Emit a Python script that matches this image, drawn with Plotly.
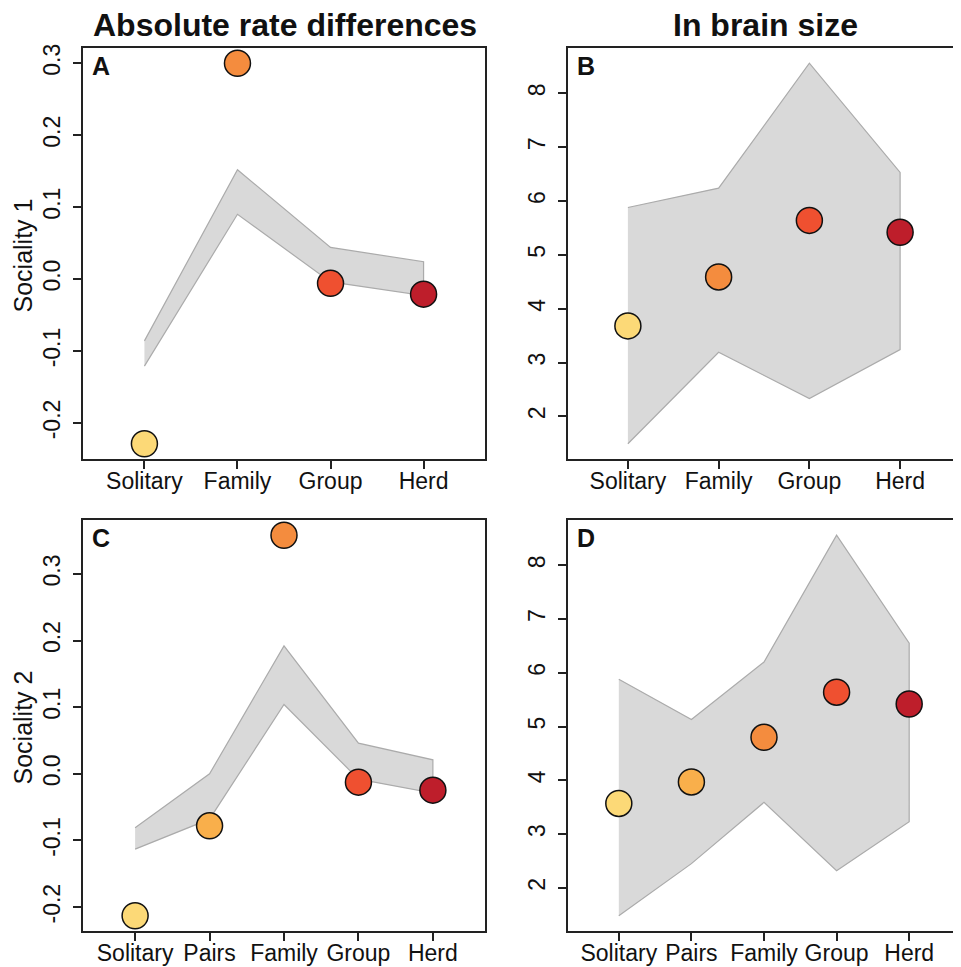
import plotly.graph_objects as go

# page offset: browser body has an 8px margin
OFF = 8
W, H = 961 - OFF, 967 - OFF

# ---------------- data ----------------
cats4 = ["Solitary", "Family", "Group", "Herd"]
cats5 = ["Solitary", "Pairs", "Family", "Group", "Herd"]

colors4 = ["#FCD977", "#F48C3E", "#EF5030", "#BE1E2B"]
colors5 = ["#FCD977", "#F9AF4B", "#F48C3E", "#EF5030", "#BE1E2B"]

# Panel A: Sociality 1, absolute rate differences
a_points = [-0.229, 0.300, -0.006, -0.021]
a_upper = [-0.086, 0.152, 0.044, 0.024]
a_lower = [-0.121, 0.090, -0.004, -0.023]

# Panel B: Sociality 1, brain size
b_points = [3.68, 4.59, 5.64, 5.42]
b_upper = [5.88, 6.24, 8.56, 6.53]
b_lower = [1.49, 3.19, 2.33, 3.24]

# Panel C: Sociality 2, absolute rate differences
c_points = [-0.213, -0.078, 0.358, -0.0125, -0.0245]
c_upper = [-0.081, 0.000, 0.192, 0.046, 0.021]
c_lower = [-0.113, -0.068, 0.104, -0.008, -0.029]

# Panel D: Sociality 2, brain size
d_points = [3.57, 3.97, 4.80, 5.64, 5.42]
d_upper = [5.88, 5.13, 6.20, 8.56, 6.55]
d_lower = [1.48, 2.45, 3.59, 2.32, 3.23]

rate_ticks = [-0.2, -0.1, 0.0, 0.1, 0.2, 0.3]
rate_ticktext = ["-0.2", "-0.1", "0.0", "0.1", "0.2", "0.3"]
brain_ticks = [2, 3, 4, 5, 6, 7, 8]
brain_ticktext = ["2", "3", "4", "5", "6", "7", "8"]

titles = ["Absolute rate differences", "In brain size"]
row_labels = ["Sociality 1", "Sociality 2"]
panel_letters = ["A", "B", "C", "D"]

# ---------------- layout geometry (pixels, page coordinates) ----------------
FONT = "Liberation Sans, Arial, sans-serif"
col_x = [(83, 485), (568, 960)]
row_y = [(48, 459), (520, 931)]


def fx(p):
    return (p - OFF) / W


def fy(p):
    return 1 - (p - OFF) / H


fig = go.Figure()

panels = [
    (cats4, colors4, a_points, a_upper, a_lower, rate_ticks, rate_ticktext, 0, 0),
    (cats4, colors4, b_points, b_upper, b_lower, brain_ticks, brain_ticktext, 0, 1),
    (cats5, colors5, c_points, c_upper, c_lower, rate_ticks, rate_ticktext, 1, 0),
    (cats5, colors5, d_points, d_upper, d_lower, brain_ticks, brain_ticktext, 1, 1),
]

for i, (cats, cols, pts, up, lo, tv, tt, r, c) in enumerate(panels):
    n = len(cats)
    xs = list(range(1, n + 1))
    xa = "x" if i == 0 else f"x{i+1}"
    ya = "y" if i == 0 else f"y{i+1}"
    # confidence band
    fig.add_trace(go.Scatter(
        x=xs + xs[::-1], y=up + lo[::-1], mode="lines", fill="toself",
        fillcolor="#D9D9D9", line=dict(color="#ABABAB", width=1.2),
        xaxis=xa, yaxis=ya, showlegend=False, hoverinfo="skip"))
    # observed points
    fig.add_trace(go.Scatter(
        x=xs, y=pts, mode="markers",
        marker=dict(size=26, color=cols, line=dict(color="#111111", width=1.5)),
        xaxis=xa, yaxis=ya, showlegend=False))

    allv = pts + up + lo
    lo_v, hi_v = min(allv), max(allv)
    pad = 0.04 * (hi_v - lo_v)
    xpad = 0.04 * n

    axkw = dict(showline=True, mirror=True, linecolor="#222222", linewidth=1.5,
                ticks="outside", ticklen=8, tickwidth=1.5, tickcolor="#222222",
                showgrid=False, zeroline=False, automargin=False,
                tickfont=dict(family=FONT, size=23, color="#111111"))
    fig.layout[("xaxis" if i == 0 else f"xaxis{i+1}")] = dict(
        domain=[fx(col_x[c][0]), fx(col_x[c][1])], anchor=ya,
        range=[0.5 - xpad, n + 0.5 + xpad], tickvals=xs, ticktext=cats,
        ticklabelstandoff=-7, **axkw)
    fig.layout[("yaxis" if i == 0 else f"yaxis{i+1}")] = dict(
        domain=[fy(row_y[r][1]), fy(row_y[r][0])], anchor=xa,
        range=[lo_v - pad, hi_v + pad], tickvals=tv, ticktext=tt,
        tickangle=-90, ticklabelstandoff=4, **axkw)

    # panel letter
    fig.add_annotation(text=f"<b>{panel_letters[i]}</b>", xref="paper", yref="paper",
                       x=fx(col_x[c][0] + 7), y=fy(row_y[r][0] + 2),
                       xanchor="left", yanchor="top", showarrow=False,
                       font=dict(family=FONT, size=25, color="#111111"))

# column titles
for c, t in enumerate(titles):
    fig.add_annotation(text=f"<b>{t}</b>", xref="paper", yref="paper",
                       x=fx((col_x[c][0] + col_x[c][1]) / 2 + 1), y=fy(6),
                       xanchor="center", yanchor="top", showarrow=False,
                       borderpad=0,
                       font=dict(family=FONT, size=32, color="#111111"))

# row labels
for r, t in enumerate(row_labels):
    fig.add_annotation(text=t, xref="paper", yref="paper",
                       x=fx(22), y=fy((row_y[r][0] + row_y[r][1]) / 2 + 2),
                       xanchor="center", yanchor="middle", textangle=-90, showarrow=False,
                       font=dict(family=FONT, size=25, color="#111111"))

fig.update_layout(width=W, height=H, margin=dict(l=0, r=0, t=0, b=0),
                  paper_bgcolor="white", plot_bgcolor="white")

fig.write_html("out.html")
